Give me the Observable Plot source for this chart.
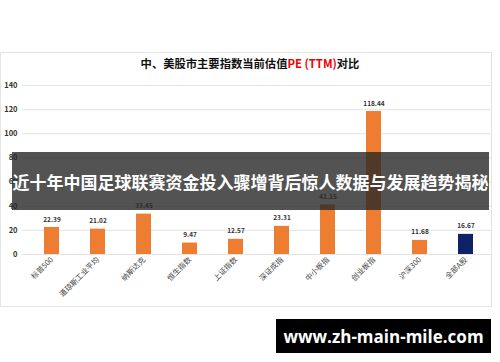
<!DOCTYPE html>
<html>
<head>
<meta charset="utf-8">
<script src="https://cdn.jsdelivr.net/npm/d3@7"></script>
<script src="https://cdn.jsdelivr.net/npm/@observablehq/plot@0.6"></script>
<style>
  html, body { margin: 0; padding: 0; background: #fff; }
  #wrap { position: relative; width: 500px; height: 362px; overflow: hidden; font-family: "Noto Sans CJK SC", "Noto Sans", sans-serif; }
  #box { position: absolute; left: 0; top: 52px; width: 492px; height: 255px; border: 1px solid #e4e4e4; box-sizing: border-box; }
  #title { position: absolute; left: 0; width: 500px; top: 55px; text-align: center; font-size: 11.3px; font-weight: 700; color: #111; }
  #title .red { color: #e00; }
  #chart { position: absolute; left: 0; top: 0; }
  #banner { position: absolute; left: 12px; top: 152px; width: 477px; height: 58px; background: rgba(40,40,40,0.8); color: #fff; font-size: 17px; font-weight: 700; display: flex; align-items: center; justify-content: center; white-space: nowrap; }
  #url { position: absolute; left: 276px; top: 319px; width: 215px; height: 34px; background: #000; color: #fff; font-family: "Open Sans", "DejaVu Sans", sans-serif; font-weight: 700; font-size: 17px; display: flex; align-items: center; justify-content: center; }
</style>
</head>
<body>
<div id="wrap">
  <div id="box"></div>
  <div id="chart"></div>
  <div id="title">中、美股市主要指数当前估值<span class="red">PE (TTM)</span>对比</div>
  <div id="banner">近十年中国足球联赛资金投入骤增背后惊人数据与发展趋势揭秘</div>
  <div id="url">www.zh-main-mile.com</div>
</div>
<script>
const categories = ["标普500", "道琼斯工业平均", "纳斯达克", "恒生指数", "上证指数", "深证成指", "中小板指", "创业板指", "沪深300", "全部A股"];
const values = [22.39, 21.02, 33.45, 9.47, 12.57, 23.31, 41.15, 118.44, 11.68, 16.67];
const yTicks = [0, 20, 40, 60, 80, 100, 120, 140];
const highlight = "全部A股";

const data = categories.map((c, i) => ({name: c, value: values[i], hl: c === highlight}));

const chart = Plot.plot({
  width: 500,
  height: 362,
  marginLeft: 22,
  marginRight: 8,
  marginTop: 85,
  marginBottom: 108,
  style: {background: "transparent", fontFamily: "'Noto Sans CJK SC', sans-serif"},
  x: {domain: categories, insetLeft: 3, paddingInner: 0.68, paddingOuter: 0.34, label: null},
  y: {domain: [0, 140], label: null},
  color: {domain: [false, true], range: ["#ED7D31", "#0F2266"]},
  marks: [
    Plot.ruleY(yTicks, {stroke: "#e3e3e3", strokeWidth: 1}),
    Plot.axisY(yTicks, {tickSize: 0, tickPadding: 5, fontSize: 7.5, fontWeight: 700, fill: "#333", label: null}),
    Plot.axisX({tickSize: 0, tickPadding: 4, tickRotate: -45, fontSize: 7.5, fill: "#444", label: null}),
    Plot.barY(data, {x: "name", y: "value", fill: "hl"}),
    Plot.text(data, {x: "name", y: "value", text: d => d.value.toFixed(2), dy: -8, fontSize: 6.5, fontWeight: 700, fill: "#333"})
  ]
});
document.getElementById("chart").appendChild(chart);
</script>
</body>
</html>
